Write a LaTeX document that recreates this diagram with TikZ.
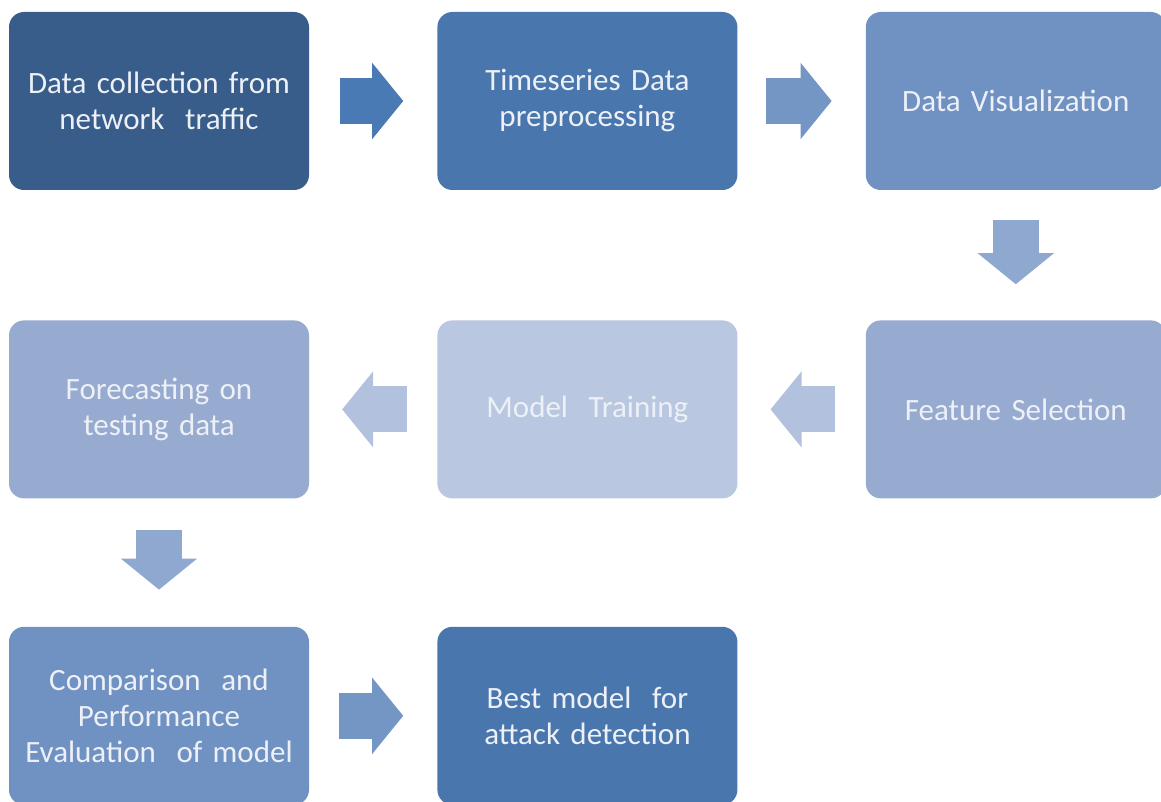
\documentclass[tikz,border=0pt]{standalone}
\usepackage{fontspec}
\setmainfont{Carlito}
\usepackage{tikz}
\usetikzlibrary{arrows.meta, positioning, calc}
\definecolor{boxdark}{HTML}{385D8A}
\definecolor{boxmid}{HTML}{4A76AE}
\definecolor{boxsoft}{HTML}{7092C2}
\definecolor{boxpale}{HTML}{97AACF}
\definecolor{boxlight}{HTML}{BAC7E0}
\definecolor{arrdark}{HTML}{4A7AB4}
\definecolor{arrmid}{HTML}{7496C4}
\definecolor{arrsoft}{HTML}{8EA8D0}
\definecolor{arrlight}{HTML}{B2C2DE}
\definecolor{txtwhite}{HTML}{EDF1F7}

\begin{document}
\begin{tikzpicture}[
  x=1pt, y=-1pt,
  stage/.style={
    rectangle, rounded corners=15pt, minimum width=300pt, minimum height=178pt,
    fill=#1, draw=none, inner sep=0pt, text width=294pt, align=center,
    text=txtwhite, font=\fontsize{31}{36}\selectfont,
  },
  blockarrow/.style={
    draw=#1, line width=46pt,
    -{Triangle[length=31pt,width=76pt,line width=1.5pt]},
  },
  node distance=128pt,
]
  \fill[white] (0,0) rectangle (1161,802);
  \clip (0,0) rectangle (1161,802);

  % Row 1
  \node[stage=boxdark] (collect) at (159,101) {Data collection from\\network \ traffic};
  \node[stage=boxmid, right=of collect] (prep) {Timeseries Data\\preprocessing};
  \node[stage=boxsoft, right=of prep] (visual) {Data Visualization};

  % Row 2
  \node[stage=boxpale, below=130pt of visual] (feature) {Feature Selection};
  \node[stage=boxlight, left=of feature] (train) {Model \ Training};
  \node[stage=boxpale, left=of train] (forecast) {Forecasting on\\testing data};

  % Row 3
  \node[stage=boxsoft, below=128pt of forecast] (compare) {Comparison \ and\\Performance\\Evaluation \ of model};
  \node[stage=boxmid, right=of compare] (best) {Best model \ for\\attack detection};

  % Block arrows
  \draw[blockarrow=arrdark, shorten <=31pt, shorten >=34pt] (collect) -- (prep);
  \draw[blockarrow=arrmid, shorten <=28pt, shorten >=34pt] (prep) -- (visual);
  \draw[blockarrow=arrsoft, shorten <=30pt, shorten >=36pt] (visual) -- (feature);
  \draw[blockarrow=arrlight, shorten <=31pt, shorten >=33pt] (feature) -- (train);
  \draw[blockarrow=arrlight, shorten <=30pt, shorten >=33pt] (train) -- (forecast);
  \draw[blockarrow=arrsoft, shorten <=31pt, shorten >=37pt] (forecast) -- (compare);
  \draw[blockarrow=arrmid, shorten <=30pt, shorten >=34pt] (compare) -- (best);
\end{tikzpicture}
\end{document}
